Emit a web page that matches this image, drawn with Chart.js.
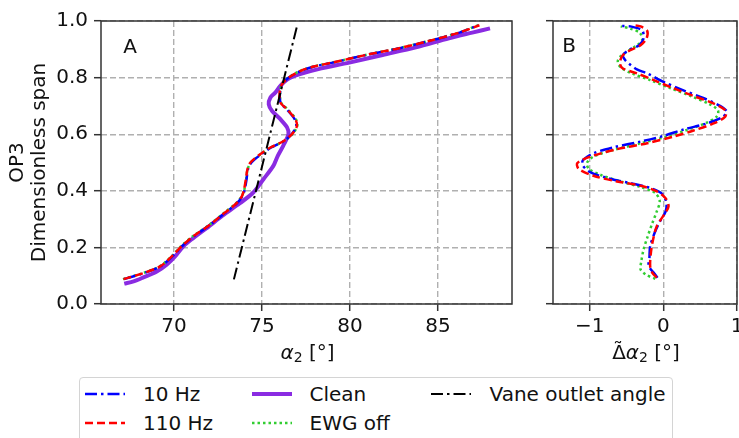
<!DOCTYPE html>
<html>
<head>
<meta charset="utf-8">
<script src="https://cdn.jsdelivr.net/npm/chart.js@4.4.1/dist/chart.umd.min.js"></script>
<style>
  html, body { margin: 0; padding: 0; background: #fff; overflow: hidden; width: 739px; height: 438px; }
  #wrapA { position: absolute; left: 0; top: 0; }
  #wrapB { position: absolute; left: 530px; top: 0; }
  #legend {
    position: absolute; left: 79px; top: 377px; width: 594px; height: 84px;
    border: 1px solid #d4d4d4; border-radius: 4px; box-sizing: border-box; background: #fff;
    font-family: "DejaVu Sans", sans-serif; font-size: 20px; color: #111;
  }
  .item { position: absolute; height: 24px; line-height: 24px; white-space: nowrap; }
</style>
</head>
<body>
<div id="wrapA"><canvas id="chartA" width="530" height="370"></canvas></div>
<div id="wrapB"><canvas id="chartB" width="240" height="370"></canvas></div>
<div id="legend"></div>
<script>
// ---- Panel A: outlet flow angle alpha2 [deg] against dimensionless span ----
const spanA = [0.088, 0.109, 0.133, 0.168, 0.204, 0.239, 0.280, 0.321, 0.356, 0.380, 0.406,
               0.441, 0.476, 0.500, 0.530, 0.553, 0.576, 0.600, 0.629, 0.653, 0.688, 0.712,
               0.747, 0.776, 0.800, 0.824, 0.840, 0.853, 0.880, 0.904, 0.933, 0.959, 0.985];
const alpha10Hz = [67.15, 68.28, 69.22, 69.90, 70.45, 71.12, 72.06, 72.88, 73.57, 73.88, 74.02,
                   74.12, 74.20, 74.40, 74.98, 75.52, 76.25, 76.68, 76.94, 76.85, 76.40, 76.05,
                   76.02, 76.15, 76.52, 77.22, 78.02, 79.02, 80.92, 82.82, 84.72, 86.22, 87.30];
const alpha110Hz = [67.13, 68.26, 69.21, 69.87, 70.43, 71.09, 72.04, 72.85, 73.55, 73.85, 73.98,
                    74.08, 74.17, 74.34, 74.91, 75.47, 76.23, 76.70, 76.98, 76.89, 76.42, 76.04,
                    76.00, 76.13, 76.51, 77.20, 78.00, 79.00, 80.90, 82.80, 84.70, 86.20, 87.35];
const alphaEwgOff = [67.10, 68.22, 69.18, 69.85, 70.40, 71.06, 72.00, 72.82, 73.52, 73.84, 74.00,
                     74.10, 74.18, 74.36, 74.94, 75.50, 76.25, 76.72, 77.00, 76.92, 76.46, 76.08,
                     76.02, 76.12, 76.50, 77.18, 77.98, 78.98, 80.88, 82.78, 84.68, 86.18, 87.28];
const spanClean = [0.072, 0.080, 0.094, 0.115, 0.139, 0.168, 0.204, 0.233, 0.268, 0.312, 0.356,
                   0.394, 0.441, 0.488, 0.522, 0.559, 0.600, 0.624, 0.653, 0.682, 0.706, 0.729,
                   0.747, 0.771, 0.794, 0.812, 0.830, 0.853, 0.880, 0.907, 0.939, 0.959, 0.974];
const alphaClean = [67.17, 67.70, 68.26, 69.02, 69.58, 70.06, 70.53, 71.09, 71.85, 72.75, 73.74,
                    74.50, 75.08, 75.64, 75.88, 76.20, 76.50, 76.42, 76.04, 75.57, 75.38, 75.47,
                    75.75, 76.04, 76.45, 77.15, 78.20, 79.96, 81.85, 83.74, 85.62, 86.94, 87.95];
const spanVane = [0.087, 0.985];
const alphaVane = [73.4, 77.0];

// ---- Panel B: change of alpha2 relative to the clean case [deg] ----
const spanB10 = [0.093, 0.110, 0.134, 0.163, 0.204, 0.251, 0.286, 0.327, 0.359, 0.390, 0.410,
                 0.427, 0.445, 0.468, 0.492, 0.509, 0.533, 0.554, 0.574, 0.594, 0.617, 0.638,
                 0.660, 0.680, 0.700, 0.727, 0.754, 0.785, 0.815, 0.829, 0.850, 0.862, 0.879,
                 0.899, 0.914, 0.938, 0.967, 0.981, 0.982];
const dAlpha10Hz = [-0.08, -0.13, -0.20, -0.19, -0.18, -0.12, -0.06, 0.03, 0.04, -0.02, -0.18,
                    -0.45, -0.76, -1.01, -1.10, -1.09, -0.95, -0.67, -0.31, 0.00, 0.28, 0.59,
                    0.80, 0.86, 0.77, 0.55, 0.28, 0.00, -0.22, -0.36, -0.47, -0.52, -0.55,
                    -0.46, -0.33, -0.27, -0.29, -0.45, -0.56];
const spanB110 = [0.093, 0.110, 0.134, 0.181, 0.228, 0.275, 0.316, 0.345, 0.374, 0.398, 0.418,
                  0.433, 0.453, 0.477, 0.498, 0.521, 0.547, 0.568, 0.592, 0.613, 0.638, 0.662,
                  0.685, 0.709, 0.735, 0.762, 0.791, 0.815, 0.832, 0.850, 0.876, 0.897, 0.914,
                  0.938, 0.965, 0.981, 0.985];
const dAlpha110Hz = [-0.09, -0.15, -0.18, -0.17, -0.14, -0.09, 0.01, 0.07, 0.03, -0.09, -0.31,
                     -0.63, -0.95, -1.15, -1.17, -0.99, -0.63, -0.22, 0.14, 0.41, 0.68, 0.84,
                     0.84, 0.68, 0.41, 0.14, -0.13, -0.36, -0.55, -0.59, -0.56, -0.45, -0.31,
                     -0.23, -0.22, -0.31, -0.41];
const spanBEwg = [0.089, 0.104, 0.122, 0.151, 0.192, 0.234, 0.286, 0.327, 0.363, 0.392, 0.413,
                  0.433, 0.457, 0.477, 0.498, 0.521, 0.545, 0.568, 0.592, 0.615, 0.641, 0.664,
                  0.685, 0.707, 0.735, 0.762, 0.791, 0.815, 0.836, 0.856, 0.873, 0.894, 0.914,
                  0.932, 0.958, 0.973, 0.981];
const dAlphaEwgOff = [-0.11, -0.24, -0.31, -0.30, -0.27, -0.22, -0.15, -0.09, -0.05, -0.11, -0.31,
                      -0.58, -0.86, -1.01, -1.04, -0.95, -0.67, -0.31, 0.05, 0.32, 0.59, 0.73,
                      0.74, 0.62, 0.37, 0.10, -0.18, -0.43, -0.58, -0.62, -0.59, -0.48, -0.36,
                      -0.29, -0.32, -0.45, -0.58];

// ---- Axis ticks and labels ----
const yTicks = [0, 0.2, 0.4, 0.6, 0.8, 1.0];
const xTicksA = [70, 75, 80, 85];
const xTicksB = [-1, 0, 1];
const seriesLabels = ['10 Hz', '110 Hz', 'Clean', 'EWG off', 'Vane outlet angle'];

// ---- Styles ----
const FONT = "'DejaVu Sans', sans-serif";
const style = {
  '10 Hz':             { color: '#0000ff', width: 2.5, dash: [12, 4, 2.5, 4], order: 2 },
  '110 Hz':            { color: '#ff0000', width: 2.5, dash: [8, 4],          order: 1 },
  'Clean':             { color: '#8a2be2', width: 4,   dash: [],              order: 4 },
  'EWG off':           { color: '#32cd32', width: 2.5, dash: [2.5, 3],        order: 3 },
  'Vane outlet angle': { color: '#000000', width: 2,   dash: [12, 4, 2.5, 4], order: 0 }
};

Chart.defaults.font.family = FONT;
Chart.defaults.font.size = 20;
Chart.defaults.color = '#111';

function pts(xs, ys) { return xs.map((x, i) => ({ x: x, y: ys[i] })); }

function ds(label, xs, ys, tension) {
  const s = style[label];
  return {
    label: label, data: pts(xs, ys), showLine: true, pointRadius: 0, borderColor: s.color,
    backgroundColor: s.color, borderWidth: s.width, borderDash: s.dash, order: s.order,
    tension: tension, fill: false
  };
}

// Axis titles with an italic alpha, a lowered subscript and an optional tilde accent
const titleA = [{ t: 'α', f: 'italic 20px' }, { t: '2', f: '14px', dy: 3 }, { t: ' [°]', f: '20px' }];
const titleB = [{ t: 'Δ', f: '20px', tilde: true }, { t: 'α', f: 'italic 20px' },
                { t: '2', f: '14px', dy: 3 }, { t: ' [°]', f: '20px' }];

function drawMath(ctx, parts, cx, baseline) {
  let total = 0;
  parts.forEach(p => { ctx.font = p.f + ' ' + FONT; p.w = ctx.measureText(p.t).width; total += p.w; });
  let x = cx - total / 2;
  ctx.textAlign = 'left';
  ctx.textBaseline = 'alphabetic';
  parts.forEach(p => {
    ctx.font = p.f + ' ' + FONT;
    ctx.fillText(p.t, x, baseline + (p.dy || 0));
    if (p.tilde) {
      ctx.textAlign = 'center';
      ctx.fillText('\u02DC', x + p.w / 2 - 1, baseline - 3);
      ctx.textAlign = 'left';
    }
    x += p.w;
  });
}

// Full rectangular frame, panel letter and x-axis title
function framePlugin(letter, dx, dy, title) {
  return {
    id: 'frame' + letter,
    afterDraw(chart) {
      const { ctx, chartArea: a } = chart;
      ctx.save();
      ctx.strokeStyle = '#333';
      ctx.lineWidth = 1.5;
      ctx.setLineDash([]);
      ctx.strokeRect(a.left, a.top, a.right - a.left, a.bottom - a.top);
      ctx.fillStyle = '#111';
      ctx.font = '20px ' + FONT;
      ctx.textAlign = 'center';
      ctx.textBaseline = 'middle';
      ctx.fillText(letter, a.left + dx, a.top + dy);
      drawMath(ctx, title, (a.left + a.right) / 2 + 1, 359);
      ctx.restore();
    }
  };
}

const gridCommon = {
  color: '#b0b0b0', lineWidth: 1.4, tickLength: 7, tickColor: '#333', tickWidth: 1.5, tickBorderDash: []
};
const borderCommon = { display: false, dash: [6, 3] };

function yScale(showLabels, axisWidth) {
  return {
    type: 'linear', min: 0, max: 1,
    afterBuildTicks: s => { s.ticks = yTicks.map(v => ({ value: v })); },
    afterFit: s => { s.width = axisWidth; },
    grid: gridCommon, border: borderCommon,
    ticks: { display: showLabels, padding: 6, callback: v => v.toFixed(1) },
    title: showLabels ? {
      display: true, text: ['OP3', 'Dimensionless span'],
      font: { size: 20, lineHeight: 1.1 }, padding: { top: 7, bottom: 0 }, color: '#111'
    } : { display: false }
  };
}

function xScale(min, max, ticks, fmt) {
  return {
    type: 'linear', min: min, max: max,
    afterBuildTicks: s => { s.ticks = ticks.map(v => ({ value: v })); },
    afterFit: s => { s.height = 66; },
    grid: gridCommon, border: borderCommon,
    ticks: { padding: 4, callback: fmt, maxRotation: 0, autoSkip: false },
    title: { display: false }
  };
}

const commonOpts = {
  responsive: false, animation: false, events: [],
  plugins: { legend: { display: false }, tooltip: { enabled: false } }
};

new Chart(document.getElementById('chartA'), {
  type: 'scatter',
  data: {
    datasets: [
      ds('10 Hz', alpha10Hz, spanA, 0.3),
      ds('110 Hz', alpha110Hz, spanA, 0.3),
      ds('Clean', alphaClean, spanClean, 0.3),
      ds('EWG off', alphaEwgOff, spanA, 0.3),
      ds('Vane outlet angle', alphaVane, spanVane, 0)
    ]
  },
  options: Object.assign({}, commonOpts, {
    layout: { padding: { left: 0, top: 21, right: 18, bottom: 0 } },
    scales: {
      x: xScale(65.85, 89.2, xTicksA, v => String(v)),
      y: yScale(true, 101)
    }
  }),
  plugins: [framePlugin('A', 29, 27, titleA)]
});

new Chart(document.getElementById('chartB'), {
  type: 'scatter',
  data: {
    datasets: [
      ds('10 Hz', dAlpha10Hz, spanB10, 0.3),
      ds('110 Hz', dAlpha110Hz, spanB110, 0.3),
      ds('EWG off', dAlphaEwgOff, spanBEwg, 0.3)
    ]
  },
  options: Object.assign({}, commonOpts, {
    layout: { padding: { left: 0, top: 21, right: 33, bottom: 0 } },
    scales: {
      x: xScale(-1.5, 1.0, xTicksB, v => (v < 0 ? '\u2212' + Math.abs(v) : String(v))),
      y: yScale(false, 23)
    }
  }),
  plugins: [framePlugin('B', 16, 26, titleB)]
});

// Legend laid out in three columns below both panels
const legendPos = {
  '10 Hz':             { x: 5,   tx: 63,    row: 0 },
  '110 Hz':            { x: 5,   tx: 63,    row: 1 },
  'Clean':             { x: 172, tx: 229.5, row: 0 },
  'EWG off':           { x: 172, tx: 229.5, row: 1 },
  'Vane outlet angle': { x: 351, tx: 409.5, row: 0 }
};
const legend = document.getElementById('legend');
seriesLabels.forEach(label => {
  const s = style[label], p = legendPos[label];
  const top = (p.row === 0 ? 16 : 45) - 12;
  const sample = document.createElementNS('http://www.w3.org/2000/svg', 'svg');
  sample.setAttribute('width', '40'); sample.setAttribute('height', '24');
  sample.style.position = 'absolute'; sample.style.left = p.x + 'px'; sample.style.top = top + 'px';
  const ln = document.createElementNS('http://www.w3.org/2000/svg', 'line');
  ln.setAttribute('x1', '0'); ln.setAttribute('x2', '40'); ln.setAttribute('y1', '12'); ln.setAttribute('y2', '12');
  ln.setAttribute('stroke', s.color); ln.setAttribute('stroke-width', String(s.width));
  if (s.dash.length) ln.setAttribute('stroke-dasharray', s.dash.join(' '));
  sample.appendChild(ln);
  legend.appendChild(sample);
  const txt = document.createElement('span');
  txt.className = 'item';
  txt.style.left = p.tx + 'px'; txt.style.top = top + 'px';
  txt.textContent = label;
  legend.appendChild(txt);
});
</script>
</body>
</html>
